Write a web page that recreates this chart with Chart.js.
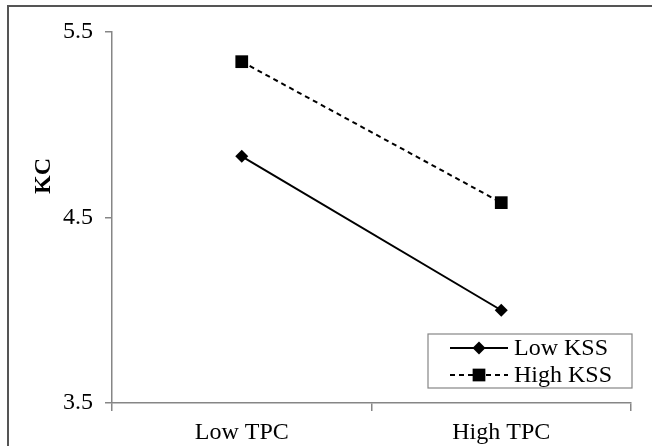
<!DOCTYPE html>
<html>
<head>
<meta charset="utf-8">
<script src="https://cdn.jsdelivr.net/npm/chart.js@4/dist/chart.umd.min.js"></script>
<style>
html,body{margin:0;padding:0;background:#fff;}
#wrap{width:652px;height:446px;position:relative;}
</style>
</head>
<body>
<div id="wrap"><canvas id="c" width="652" height="446"></canvas></div>
<script>
var categories = ["Low TPC", "High TPC"];
var lowKSS = [4.83, 4.00];
var highKSS = [5.34, 4.58];
var yTicks = [3.5, 4.5, 5.5];
var yTitle = "KC";

var FONT = "'Liberation Serif', 'Times New Roman', serif";
var AXIS = "#868686";

// outer frame, KC label and the boxed legend inside the plot
var extras = {
  id: "extras",
  afterDraw: function(chart){
    var ctx = chart.ctx, a = chart.chartArea;
    ctx.save();
    ctx.strokeStyle = "#555";
    ctx.lineWidth = 2;
    ctx.beginPath();
    ctx.moveTo(8, 446); ctx.lineTo(8, 6); ctx.lineTo(652, 6);
    ctx.stroke();

    ctx.fillStyle = "#000";
    ctx.font = "bold 24px " + FONT;
    ctx.textAlign = "center"; ctx.textBaseline = "middle";
    ctx.translate(44, 176); ctx.rotate(-Math.PI/2);
    ctx.fillText(yTitle, 0, 0);
    ctx.restore();

    // legend
    ctx.save();
    var bx = 428, by = 334, bw = a.right + 1 - bx, bh = 54;
    ctx.fillStyle = "#fff";
    ctx.fillRect(bx, by, bw, bh);
    ctx.strokeStyle = AXIS; ctx.lineWidth = 1.2;
    ctx.strokeRect(bx, by, bw, bh);
    chart.data.datasets.forEach(function(ds, i){
      var y = by + 14 + i*27;
      ctx.strokeStyle = "#000"; ctx.lineWidth = 2;
      ctx.setLineDash(ds.borderDash || []);
      ctx.beginPath(); ctx.moveTo(450, y); ctx.lineTo(508, y); ctx.stroke();
      ctx.setLineDash([]);
      ctx.fillStyle = "#000";
      Chart.helpers.drawPoint(ctx, {pointStyle: ds.pointStyle, radius: ds.pointRadius, rotation: 0, borderWidth: 0}, 479, y);
      ctx.font = "24px " + FONT;
      ctx.textAlign = "left"; ctx.textBaseline = "middle";
      ctx.fillText(ds.label, 514, y + 1);
    });
    ctx.restore();
  }
};

new Chart(document.getElementById("c"), {
  type: "line",
  data: {
    labels: categories,
    datasets: [
      { label: "Low KSS", data: lowKSS, borderColor: "#000", backgroundColor: "#000",
        borderWidth: 2, pointStyle: "rectRot", pointRadius: 6.5, pointBorderWidth: 0, tension: 0 },
      { label: "High KSS", data: highKSS, borderColor: "#000", backgroundColor: "#000",
        borderWidth: 2, borderDash: [5, 4], pointStyle: "rect", pointRadius: 9, pointBorderWidth: 0, tension: 0 }
    ]
  },
  options: {
    responsive: false,
    animation: false,
    layout: { padding: { top: 32, right: 21, left: 0, bottom: 0 } },
    plugins: { legend: { display: false }, tooltip: { enabled: false } },
    scales: {
      x: {
        offset: true,
        grid: { offset: true, drawOnChartArea: false, color: AXIS, tickLength: 8, lineWidth: 1.5 },
        border: { color: AXIS, width: 1.5 },
        ticks: { color: "#000", font: { family: FONT, size: 24 }, padding: 7 },
        afterFit: function(s){ s.height = 43; }
      },
      y: {
        min: 3.5, max: 5.5,
        afterBuildTicks: function(s){ s.ticks = yTicks.map(function(v){ return {value: v}; }); },
        grid: { drawOnChartArea: false, color: AXIS, tickLength: 7, lineWidth: 1.5 },
        border: { color: AXIS, width: 1.5 },
        ticks: { color: "#000", font: { family: FONT, size: 24 }, padding: 12,
          callback: function(v){ return Number(v).toFixed(1); } },
        afterFit: function(s){ s.width = 112; }
      }
    }
  },
  plugins: [extras]
});
</script>
</body>
</html>
